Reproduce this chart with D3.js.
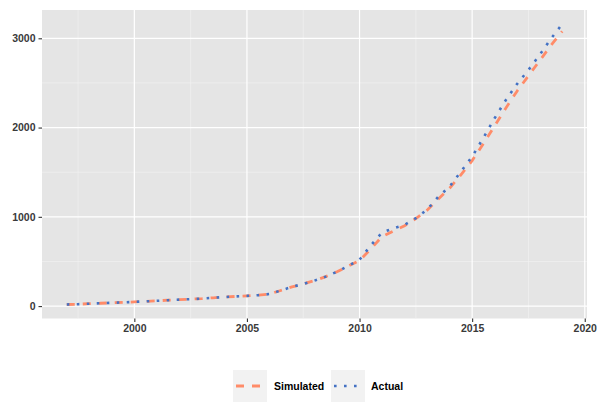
<!DOCTYPE html>
<html>
<head>
<meta charset="utf-8">
<script src="https://cdn.jsdelivr.net/npm/d3@7"></script>
<style>
  body { margin: 0; background: #fff; }
  text { font-family: "Liberation Sans", Arial, sans-serif; font-weight: bold; }
</style>
</head>
<body>
<div id="chart"></div>
<script>
// data (half-year steps)
var years = [1997, 1997.5, 1998, 1998.5, 1999, 1999.5, 2000, 2000.5, 2001, 2001.5,
             2002, 2002.5, 2003, 2003.5, 2004, 2004.5, 2005, 2005.5, 2006, 2006.5,
             2007, 2007.5, 2008, 2008.5, 2009, 2009.5, 2010, 2010.5, 2011, 2011.5,
             2012, 2012.5, 2013, 2013.5, 2014, 2014.5, 2015, 2015.5, 2016, 2016.5,
             2017, 2017.5, 2018, 2018.5, 2019];
var actual = [18, 21, 27, 32, 37, 42, 47, 53, 59, 66,
              72, 78, 84, 93, 101, 108, 114, 122, 135, 175,
              215, 248, 285, 330, 385, 450, 520, 680, 825, 870,
              910, 985, 1080, 1225, 1340, 1505, 1675, 1885, 2105, 2310,
              2490, 2645, 2815, 2995, 3160];
var simulated = [18, 21, 27, 32, 37, 42, 47, 53, 59, 66,
                 72, 78, 84, 93, 101, 108, 114, 122, 135, 175,
                 215, 248, 285, 330, 385, 448, 510, 640, 780, 840,
                 900, 980, 1075, 1200, 1320, 1470, 1630, 1820, 2020, 2220,
                 2410, 2580, 2750, 2920, 3078];
var seriesNames = ["Simulated", "Actual"];
var xTicks = [2000, 2005, 2010, 2015, 2020];
var yTicks = [0, 1000, 2000, 3000];

var W = 602, H = 402;
var panel = { left: 42, right: 587, top: 10, bottom: 318.5 };

var svg = d3.select("#chart").append("svg")
    .attr("width", W).attr("height", H);

// scales with ggplot-like 5% expansion
var xr = d3.extent(years), xpad = (xr[1] - xr[0]) * 0.05;
var allY = actual.concat(simulated);
var yr = d3.extent(allY), ypad = (yr[1] - yr[0]) * 0.05;

var x = d3.scaleLinear().domain([xr[0] - xpad, xr[1] + xpad]).range([panel.left, panel.right]);
var y = d3.scaleLinear().domain([yr[0] - ypad, yr[1] + ypad]).range([panel.bottom, panel.top]);

// panel background
svg.append("rect")
    .attr("x", panel.left).attr("y", panel.top)
    .attr("width", panel.right - panel.left).attr("height", panel.bottom - panel.top)
    .attr("fill", "#E5E5E5");

// minor grid
var xMinor = [1997.5, 2002.5, 2007.5, 2012.5, 2017.5];
var yMinor = [500, 1500, 2500];
svg.selectAll(".xminor").data(xMinor).enter().append("line")
    .attr("x1", d => x(d)).attr("x2", d => x(d))
    .attr("y1", panel.top).attr("y2", panel.bottom)
    .attr("stroke", "#f4f4f4").attr("stroke-width", 0.6);
svg.selectAll(".yminor").data(yMinor).enter().append("line")
    .attr("x1", panel.left).attr("x2", panel.right)
    .attr("y1", d => y(d)).attr("y2", d => y(d))
    .attr("stroke", "#f4f4f4").attr("stroke-width", 0.6);

// major grid
svg.selectAll(".xmajor").data(xTicks).enter().append("line")
    .attr("x1", d => x(d)).attr("x2", d => x(d))
    .attr("y1", panel.top).attr("y2", panel.bottom)
    .attr("stroke", "#fff").attr("stroke-width", 1.2);
svg.selectAll(".ymajor").data(yTicks).enter().append("line")
    .attr("x1", panel.left).attr("x2", panel.right)
    .attr("y1", d => y(d)).attr("y2", d => y(d))
    .attr("stroke", "#fff").attr("stroke-width", 1.2);

// axes
var xAxis = d3.axisBottom(x).tickValues(xTicks).tickSize(3.5).tickPadding(3).tickFormat(d3.format("d"));
var yAxis = d3.axisLeft(y).tickValues(yTicks).tickSize(3.5).tickPadding(3).tickFormat(d3.format("d"));

var gx = svg.append("g").attr("transform", "translate(0," + panel.bottom + ")").call(xAxis);
var gy = svg.append("g").attr("transform", "translate(" + panel.left + ",0)").call(yAxis);
[gx, gy].forEach(function(g) {
    g.select(".domain").remove();
    g.selectAll(".tick line").attr("stroke", "#333").attr("stroke-width", 1.1);
    g.selectAll(".tick text").attr("fill", "#3a3a3a").style("font-size", "10.5px")
        .style("font-family", "'Liberation Sans', Arial, sans-serif").style("font-weight", "bold");
});

// lines
var rowsSim = years.map((d, i) => ({ x: d, y: simulated[i] }));
var rowsAct = years.map((d, i) => ({ x: d, y: actual[i] }));
var line = d3.line().x(d => x(d.x)).y(d => y(d.y));

var styles = {
    Simulated: { color: "#FF8C69", dash: "8,8", width: 2.8 },
    Actual: { color: "#4472C4", dash: "2.6,7.4", width: 2.6 }
};

svg.append("path").datum(rowsSim).attr("d", line)
    .attr("fill", "none").attr("stroke", styles.Simulated.color)
    .attr("stroke-width", styles.Simulated.width).attr("stroke-dasharray", styles.Simulated.dash);
svg.append("path").datum(rowsAct).attr("d", line)
    .attr("fill", "none").attr("stroke", styles.Actual.color)
    .attr("stroke-width", styles.Actual.width).attr("stroke-dasharray", styles.Actual.dash);

// legend at bottom
var legend = svg.append("g");
var keyX = [233, 331], labelX = [274, 371];
seriesNames.forEach(function(name, i) {
    var s = styles[name];
    legend.append("rect").attr("x", keyX[i]).attr("y", 370).attr("width", 34).attr("height", 32)
        .attr("fill", "#F2F2F2");
    legend.append("line")
        .attr("x1", keyX[i] + 3).attr("x2", keyX[i] + 31)
        .attr("y1", 386).attr("y2", 386)
        .attr("stroke", s.color).attr("stroke-width", s.width)
        .attr("stroke-dasharray", s.dash);
    legend.append("text").attr("x", labelX[i]).attr("y", 386).attr("dy", "0.35em")
        .attr("fill", "#000").style("font-size", "10.5px").text(name);
});
</script>
</body>
</html>
